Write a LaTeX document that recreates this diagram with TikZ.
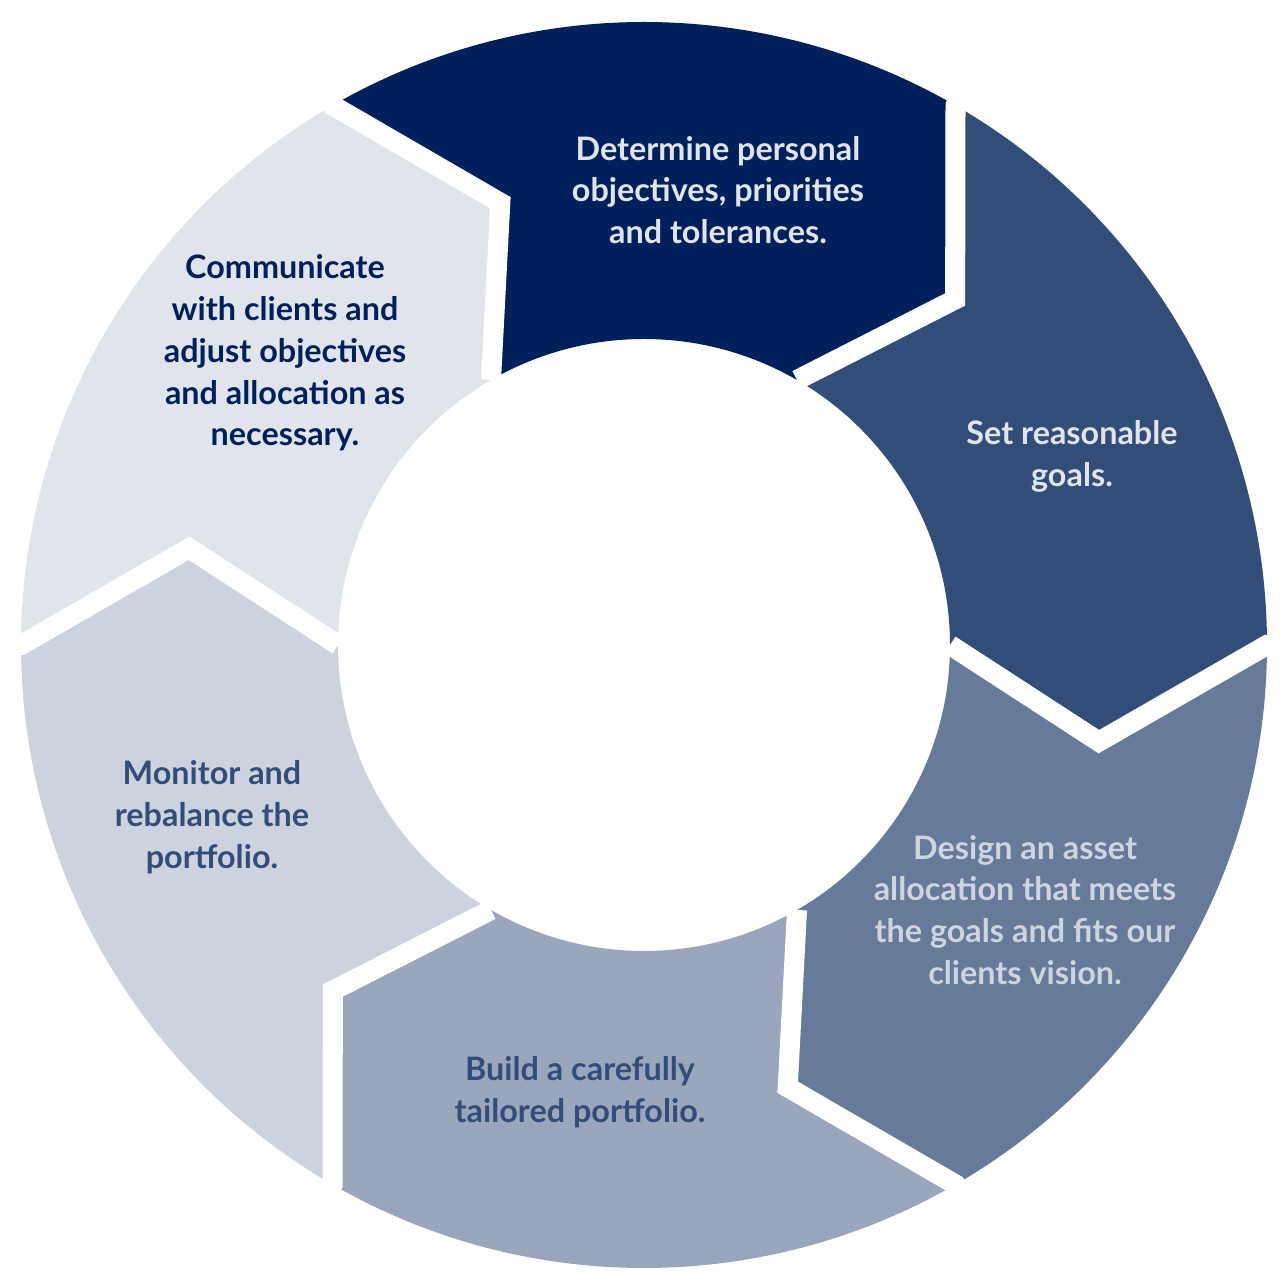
\documentclass[tikz,border=0pt]{standalone}
\usepackage{fontspec}
\setmainfont{Lato}
\definecolor{cA}{HTML}{00205B}
\definecolor{cB}{HTML}{324D77}
\definecolor{cC}{HTML}{667A99}
\definecolor{cD}{HTML}{99A6BC}
\definecolor{cE}{HTML}{CCD3DE}
\definecolor{cF}{HTML}{E0E5EC}
\definecolor{tL}{HTML}{E0E5EC}
\begin{document}
\begin{tikzpicture}[x=0.01cm,y=0.01cm,
  lbl/.style={align=center,font=\fontsize{9.2pt}{11.9pt}\selectfont\bfseries},
  gap/.style={white,line width=0.2cm,line join=miter}]
\useasboundingbox (0,0) rectangle (1288,1288);
\coordinate (c) at (644,643);
\foreach \a/\col in {120/cA,60/cB,0/cC,-60/cD,-120/cE,-180/cF}{
  \pgfmathsetmacro{\b}{\a-60}
  \pgfmathsetmacro{\tb}{\b-12}
  \pgfmathsetmacro{\ta}{\a-12}
  \fill[\col] ([shift={(\a:623)}]c) arc[start angle=\a,end angle=\b,radius=623]
    -- ([shift={(\tb:465)}]c) -- ([shift={(\b:306)}]c)
    arc[start angle=\b,end angle=\a,radius=306]
    -- ([shift={(\ta:465)}]c) -- cycle;
}
\foreach \a in {120,60,0,-60,-120,-180}{
  \pgfmathsetmacro{\ta}{\a-12}
  \draw[gap] ([shift={(\a:640)}]c) -- ([shift={(\a:623)}]c) -- ([shift={(\ta:465)}]c) -- ([shift={(\a:306)}]c);
}
\node[lbl,text=tL] (t1) at (718,1098) {Determine personal\\objectives, priorities\\and tolerances.};
\node[lbl,text=tL] (t2) at (1072,832) {Set reasonable\\goals.};
\node[lbl,text=tL!85!cC] (t3) at (1025,378) {Design an asset\\allocation that meets\\the goals and fits our\\clients vision.};
\node[lbl,text=cB] (t4) at (580,196) {Build a carefully\\tailored portfolio.};
\node[lbl,text=cB] (t5) at (212,471) {Monitor and\\rebalance the\\portfolio.};
\node[lbl,text=cA] (t6) at (285,935) {Communicate\\with clients and\\adjust objectives\\and allocation as\\necessary.};
\end{tikzpicture}
\end{document}
